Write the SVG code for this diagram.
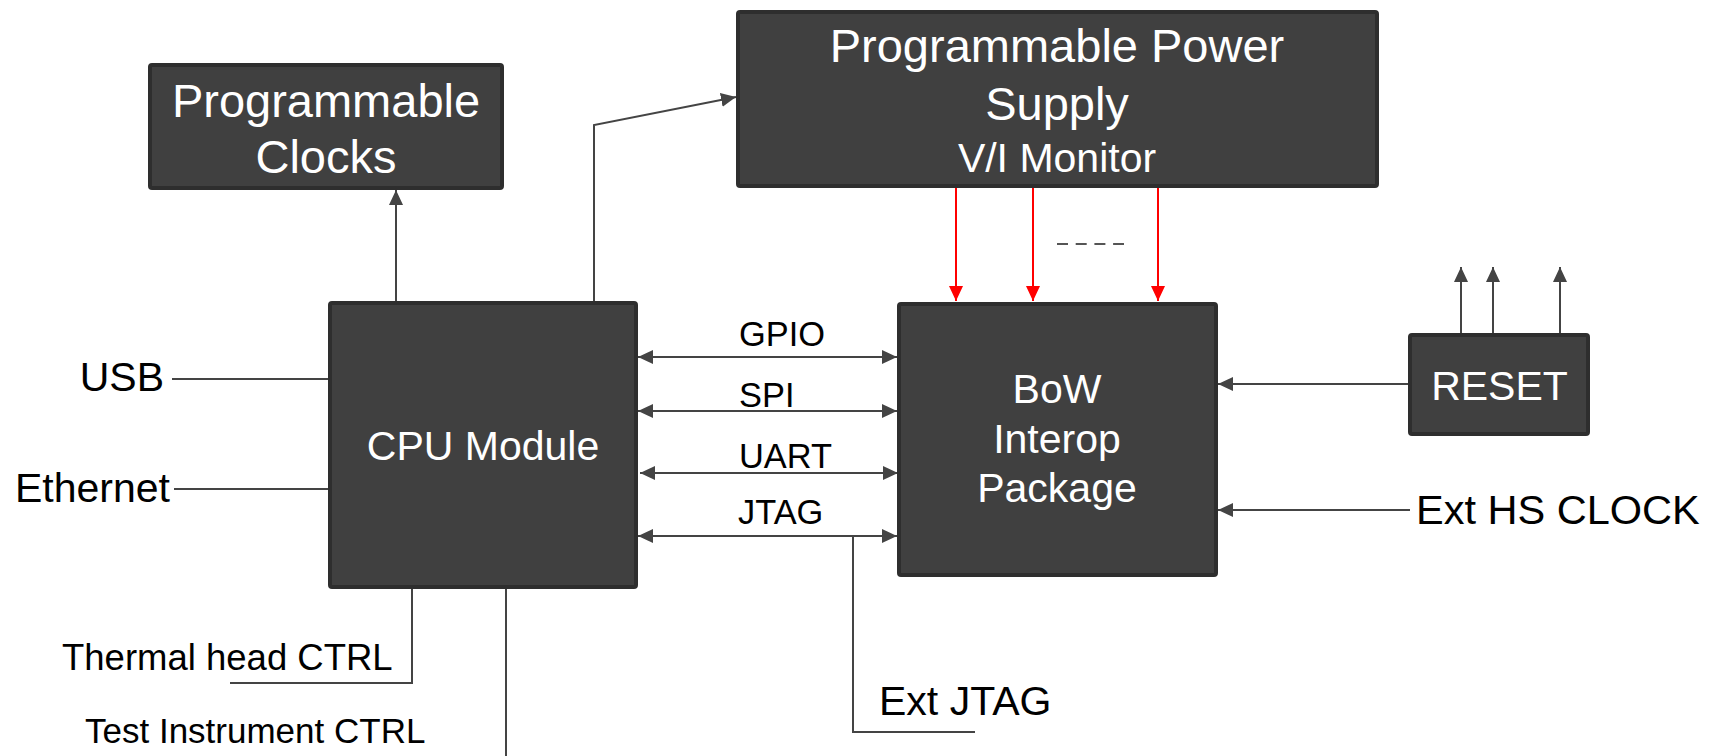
<svg xmlns="http://www.w3.org/2000/svg" width="1713" height="756" viewBox="0 0 1713 756">
  <defs>
    <style>
      .box { fill: #404040; stroke: #2e2e2e; stroke-width: 4; }
      .in { fill: #ffffff; font-family: "Liberation Sans", Arial, sans-serif; text-anchor: middle; }
      .out { fill: #000000; font-family: "Liberation Sans", Arial, sans-serif; }
      .wire { fill: none; stroke: #444444; stroke-width: 2; }
      .pwr { fill: none; stroke: #ff0000; stroke-width: 2; }
    </style>
    <marker id="arr" markerUnits="userSpaceOnUse" markerWidth="15" markerHeight="14" refX="15" refY="7" orient="auto-start-reverse">
      <path d="M0,0 L15,7 L0,14 z" fill="#444444"/>
    </marker>
    <marker id="arrRed" markerUnits="userSpaceOnUse" markerWidth="15" markerHeight="14" refX="15" refY="7" orient="auto">
      <path d="M0,0 L15,7 L0,14 z" fill="#ff0000"/>
    </marker>
  </defs>
  <rect width="1713" height="756" fill="#ffffff"/>

  <!-- connectors -->
  <g id="connectors">
    <path class="wire" d="M396,301 L396,190" marker-end="url(#arr)"/>
    <path class="wire" d="M594,301 L594,125 L736,97" marker-end="url(#arr)"/>
    <path class="pwr" d="M956,188 L956,301" marker-end="url(#arrRed)"/>
    <path class="pwr" d="M1033,188 L1033,301" marker-end="url(#arrRed)"/>
    <path class="pwr" d="M1158,188 L1158,301" marker-end="url(#arrRed)"/>
    <path d="M1057,244 L1124,244" fill="none" stroke="#555555" stroke-width="2" stroke-dasharray="11 7.7"/>
    <path class="wire" d="M638,357 L897,357" marker-start="url(#arr)" marker-end="url(#arr)"/>
    <path class="wire" d="M638,411 L897,411" marker-start="url(#arr)" marker-end="url(#arr)"/>
    <path class="wire" d="M640,473 L898,473" marker-start="url(#arr)" marker-end="url(#arr)"/>
    <path class="wire" d="M638,536 L897,536" marker-start="url(#arr)" marker-end="url(#arr)"/>
    <path class="wire" d="M853,536 L853,732 L975,732"/>
    <path class="wire" d="M172,379 L328,379"/>
    <path class="wire" d="M174,489 L328,489"/>
    <path class="wire" d="M412,589 L412,683 L230,683"/>
    <path class="wire" d="M506,589 L506,756"/>
    <path class="wire" d="M1408,384 L1218,384" marker-end="url(#arr)"/>
    <path class="wire" d="M1410,510 L1218,510" marker-end="url(#arr)"/>
    <path class="wire" d="M1461,333 L1461,267" marker-end="url(#arr)"/>
    <path class="wire" d="M1493,333 L1493,267" marker-end="url(#arr)"/>
    <path class="wire" d="M1560,333 L1560,267" marker-end="url(#arr)"/>
  </g>

  <!-- bus labels -->
  <g id="labels" class="out" font-size="34.4">
    <text x="739" y="346">GPIO</text>
    <text x="739" y="407">SPI</text>
    <text x="739" y="468">UART</text>
    <text x="738" y="524">JTAG</text>
  </g>

  <g id="clocks">
    <rect class="box" x="150" y="65" width="352" height="123" rx="2"/>
    <text class="in" x="326" y="117" font-size="47">Programmable</text>
    <text class="in" x="326" y="173" font-size="47">Clocks</text>
  </g>

  <g id="power">
    <rect class="box" x="738" y="12" width="639" height="174" rx="2"/>
    <text class="in" x="1057" y="62" font-size="47">Programmable Power</text>
    <text class="in" x="1057" y="120" font-size="47">Supply</text>
    <text class="in" x="1057" y="172" font-size="41">V/I Monitor</text>
  </g>

  <g id="cpu">
    <rect class="box" x="330" y="303" width="306" height="284" rx="2"/>
    <text class="in" x="483" y="460" font-size="41">CPU Module</text>
  </g>

  <g id="bow">
    <rect class="box" x="899" y="304" width="317" height="271" rx="2"/>
    <text class="in" x="1057" y="403" font-size="41">BoW</text>
    <text class="in" x="1057" y="453" font-size="41">Interop</text>
    <text class="in" x="1057" y="502" font-size="41">Package</text>
  </g>

  <g id="reset">
    <rect class="box" x="1410" y="335" width="178" height="99" rx="2"/>
    <text class="in" x="1499.5" y="400" font-size="41">RESET</text>
  </g>

  <g id="usb"><text class="out" x="164" y="391" font-size="41" text-anchor="end">USB</text></g>
  <g id="ethernet"><text class="out" x="170" y="502" font-size="41" text-anchor="end">Ethernet</text></g>
  <g id="thermal"><text class="out" x="62" y="670" font-size="36.5">Thermal head CTRL</text></g>
  <g id="test-instr"><text class="out" x="85" y="743" font-size="35">Test Instrument CTRL</text></g>
  <g id="ext-jtag"><text class="out" x="879" y="715" font-size="41">Ext JTAG</text></g>
  <g id="ext-hs-clock"><text class="out" x="1416" y="524" font-size="41.5">Ext HS CLOCK</text></g>
</svg>
